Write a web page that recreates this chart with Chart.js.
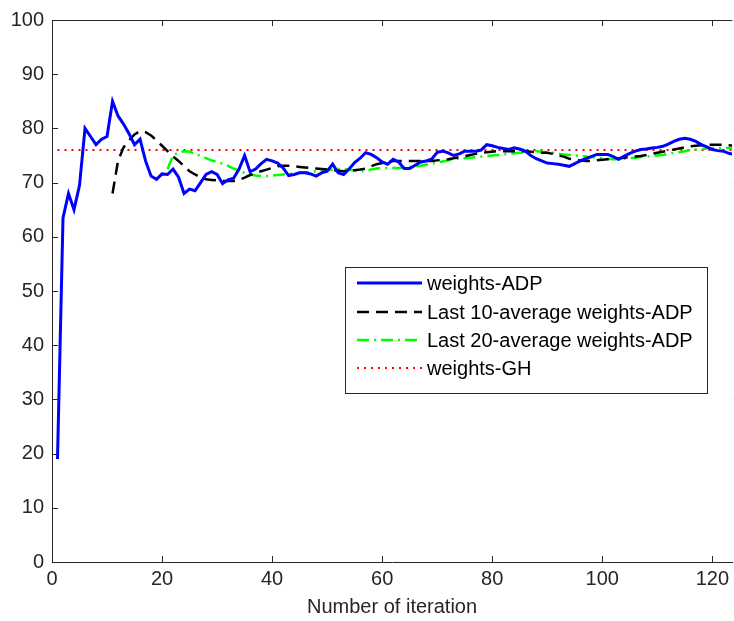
<!DOCTYPE html>
<html lang="en">
<head>
    <meta charset="UTF-8">
    <title>weights-ADP vs iteration</title>
    <script src="https://cdn.jsdelivr.net/npm/chart.js"></script>
    <style>
        body { margin: 0; background: white; }
        #chart { display: block; }
    </style>
</head>
<body>
    <canvas id="chart" width="734" height="621"></canvas>

    <script>
        // values, one per iteration
        const blueStart = 1;
        const blueY = [
            19, 63.5, 68, 65, 69.5, 80, 78.5, 77, 78, 78.5,
            85, 82.3, 80.8, 79, 77, 78, 74, 71.2, 70.6, 71.6,
            71.5, 72.5, 71, 68, 68.8, 68.5, 70, 71.5, 72, 71.5,
            69.8, 70.5, 70.8, 72.5, 75, 72, 72.5, 73.5, 74.3, 74,
            73.6, 72.7, 71.3, 71.5, 71.8, 71.8, 71.6, 71.2, 71.8, 72.1,
            73.4, 71.8, 71.5, 72.5, 73.7, 74.5, 75.5, 75.2, 74.6, 73.8,
            73.4, 74.3, 73.8, 72.6, 72.6, 73.2, 73.8, 74, 74.3, 75.6,
            75.8, 75.5, 75, 75.3, 75.8, 75.8, 75.8, 76, 77, 76.8,
            76.5, 76.3, 76.1, 76.4, 76.2, 75.8, 75, 74.4, 74, 73.6,
            73.5, 73.4, 73.2, 73, 73.5, 74, 74.4, 74.8, 75.2, 75.2,
            75.2, 74.8, 74.3, 74.9, 75.4, 75.8, 76.1, 76.2, 76.4, 76.5,
            76.7, 77.1, 77.6, 78, 78.2, 78, 77.6, 77, 76.6, 76.1,
            75.9, 75.8, 75.4, 75.2
        ];

        const avg10Start = 11;
        const avg10Y = [
            68, 74, 76.5, 77.8, 78.9, 79.5, 79.3, 78.7, 77.8, 76.8,
            75.8, 74.8, 74, 73, 72.1, 71.5, 71, 70.6, 70.5, 70.4,
            70.3, 70.3, 70.3, 70.5, 70.9, 71.4, 71.8, 72.1, 72.4, 72.7,
            73, 73.1, 73.1, 73, 72.9, 72.8, 72.7, 72.6, 72.5, 72.4,
            72.3, 72.2, 72.1, 72.2, 72.3, 72.4, 72.6, 73, 73.4, 73.6,
            73.8, 74, 74, 74, 74, 74, 74, 74, 74, 74.1,
            74.2, 74.3, 74.5, 74.7, 74.9, 75.1, 75.3, 75.5, 75.6, 75.7,
            75.8, 75.8, 75.8, 75.8, 75.8, 75.8, 75.7, 75.6, 75.5, 75.5,
            75.3, 75, 74.8, 74.4, 74.2, 74.1, 74, 74, 74.1, 74.2,
            74.3, 74.4, 74.5, 74.6, 74.7, 74.8, 74.9, 75.1, 75.3, 75.5,
            75.7, 75.9, 76.1, 76.3, 76.5, 76.7, 76.8, 76.9, 77, 77,
            77, 77, 76.9, 76.8
        ];

        const avg20Start = 21;
        const avg20Y = [
            72.5, 75, 75.6, 75.8, 75.7, 75.3, 74.9, 74.5, 74.1, 73.8,
            73.5, 73.1, 72.6, 72.2, 71.8, 71.5, 71.3, 71.2, 71.2, 71.3,
            71.4, 71.5, 71.6, 71.7, 71.8, 71.9, 72, 72.1, 72.2, 72.3,
            72.4, 72.5, 72.5, 72.4, 72.2, 72.1, 72.2, 72.4, 72.6, 72.7,
            72.7, 72.7, 72.7, 72.8, 72.9, 73, 73.1, 73.3, 73.5, 73.7,
            73.9, 74.1, 74.3, 74.4, 74.5, 74.6, 74.7, 74.8, 74.9, 75,
            75.1, 75.2, 75.3, 75.4, 75.5, 75.6, 75.7, 75.8, 75.7, 75.6,
            75.5, 75.3, 75.2, 75.1, 75, 74.9, 74.8, 74.7, 74.6, 74.5,
            74.4, 74.3, 74.3, 74.4, 74.5, 74.6, 74.7, 74.8, 74.9, 75,
            75.1, 75.3, 75.5, 75.6, 75.8, 76, 76.1, 76.2, 76.3, 76.4,
            76.4, 76.4, 76.4, 76.4
        ];

        const ghX = [1, 124];
        const ghY = [76, 76];

        const seriesNames = ['weights-ADP', 'Last 10-average weights-ADP', 'Last 20-average weights-ADP', 'weights-GH'];
        const xTicks = [0, 20, 40, 60, 80, 100, 120];
        const yTicks = [0, 10, 20, 30, 40, 50, 60, 70, 80, 90, 100];

        function toPoints(start, ys) {
            return ys.map((y, i) => ({ x: start + i, y: y }));
        }

        const labelFont = { family: '"Liberation Sans", Arial, sans-serif', size: 20 };
        const axisColor = '#262626';

        // inward tick marks and top/right box lines like the original figure
        const boxTicks = {
            id: 'boxTicks',
            afterDatasetsDraw(chart) {
                const { ctx, chartArea: a, scales: { x, y } } = chart;
                const rightX = x.getPixelForValue(125);
                const len = 6;
                ctx.save();
                ctx.strokeStyle = axisColor;
                ctx.lineWidth = 1;
                ctx.beginPath();
                ctx.moveTo(a.left, a.top + 0.5);
                ctx.lineTo(a.right, a.top + 0.5);
                xTicks.forEach(v => {
                    const px = Math.round(x.getPixelForValue(v)) + 0.5;
                    ctx.moveTo(px, a.bottom);
                    ctx.lineTo(px, a.bottom - len);
                    ctx.moveTo(px, a.top);
                    ctx.lineTo(px, a.top + len);
                });
                yTicks.forEach(v => {
                    const py = Math.round(y.getPixelForValue(v)) + 0.5;
                    ctx.moveTo(a.left, py);
                    ctx.lineTo(a.left + len, py);
                    ctx.moveTo(rightX, py);
                    ctx.lineTo(rightX - len, py);
                });
                ctx.stroke();
                ctx.restore();
            }
        };

        // boxed legend inside the plot, as in the figure
        const boxLegend = {
            id: 'boxLegend',
            afterDraw(chart) {
                const ctx = chart.ctx;
                const left = 345, top = 267, right = 707, bottom = 393;
                const rowY = [283, 312, 340, 368];
                ctx.save();
                ctx.fillStyle = '#fff';
                ctx.fillRect(left, top, right - left, bottom - top);
                ctx.strokeStyle = axisColor;
                ctx.lineWidth = 1;
                ctx.strokeRect(left + 0.5, top + 0.5, right - left, bottom - top);
                chart.data.datasets.forEach((ds, i) => {
                    ctx.beginPath();
                    ctx.setLineDash(ds.borderDash || []);
                    ctx.strokeStyle = ds.borderColor;
                    ctx.lineWidth = ds.borderWidth;
                    ctx.moveTo(357, rowY[i]);
                    ctx.lineTo(422, rowY[i]);
                    ctx.stroke();
                    ctx.setLineDash([]);
                    ctx.fillStyle = '#000';
                    ctx.font = '20px "Liberation Sans", Arial, sans-serif';
                    ctx.textBaseline = 'middle';
                    ctx.fillText(seriesNames[i], 427, rowY[i] + 1);
                });
                ctx.restore();
            }
        };

        new Chart(document.getElementById('chart'), {
            type: 'line',
            data: {
                datasets: [
                    {
                        label: seriesNames[0],
                        data: toPoints(blueStart, blueY),
                        borderColor: '#0000ff',
                        borderWidth: 3,
                        pointRadius: 0,
                        tension: 0
                    },
                    {
                        label: seriesNames[1],
                        data: toPoints(avg10Start, avg10Y),
                        borderColor: '#000000',
                        borderWidth: 2.5,
                        borderDash: [12, 7],
                        pointRadius: 0,
                        tension: 0
                    },
                    {
                        label: seriesNames[2],
                        data: toPoints(avg20Start, avg20Y),
                        borderColor: '#00ff00',
                        borderWidth: 2.5,
                        borderDash: [12, 5, 2, 5],
                        pointRadius: 0,
                        tension: 0
                    },
                    {
                        label: seriesNames[3],
                        data: ghX.map((x, i) => ({ x: x, y: ghY[i] })),
                        borderColor: '#ff0000',
                        borderWidth: 2,
                        borderDash: [2, 5],
                        pointRadius: 0,
                        tension: 0
                    }
                ]
            },
            options: {
                responsive: false,
                animation: false,
                layout: { padding: { top: 17, right: 0, left: 0, bottom: 0 } },
                plugins: {
                    legend: { display: false },
                    tooltip: { enabled: false }
                },
                scales: {
                    x: {
                        type: 'linear',
                        min: 0,
                        max: 123.6,
                        afterBuildTicks: s => { s.ticks = xTicks.map(v => ({ value: v })); },
                        afterFit: s => { s.height = 59; },
                        ticks: { font: labelFont, color: axisColor, padding: 5, maxRotation: 0, autoSkip: false },
                        grid: { display: false, drawTicks: false },
                        border: { display: true, color: axisColor, width: 1 },
                        title: {
                            display: true,
                            text: 'Number of iteration',
                            font: labelFont,
                            color: axisColor,
                            padding: { top: 0, bottom: 2 }
                        }
                    },
                    y: {
                        min: 0,
                        max: 100,
                        afterBuildTicks: s => { s.ticks = yTicks.map(v => ({ value: v })); },
                        afterFit: s => { s.width = 52; },
                        ticks: { font: labelFont, color: axisColor, padding: 8 },
                        grid: { display: false, drawTicks: false },
                        border: { display: true, color: axisColor, width: 1 }
                    }
                }
            },
            plugins: [boxTicks, boxLegend]
        });
    </script>
</body>
</html>
